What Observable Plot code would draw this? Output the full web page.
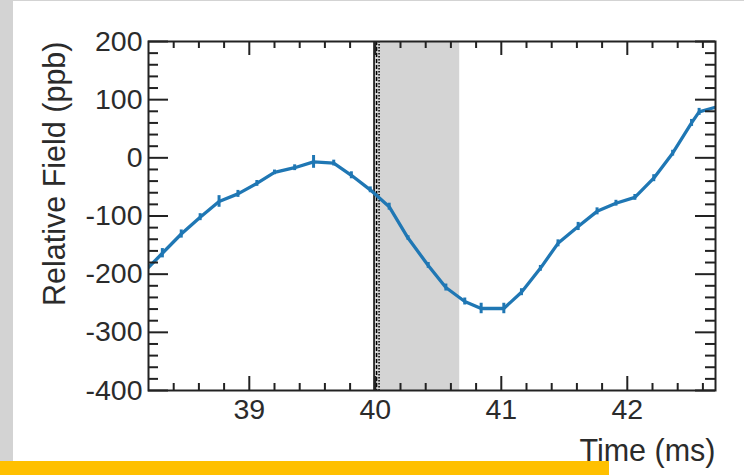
<!DOCTYPE html>
<html><head><meta charset="utf-8">
<script src="https://cdn.jsdelivr.net/npm/d3@7"></script>
<script src="https://cdn.jsdelivr.net/npm/@observablehq/plot@0.6"></script>
<style>
html,body{margin:0;padding:0;background:#fff;}
#wrap{position:relative;width:744px;height:475px;overflow:hidden;font-family:"Liberation Sans",Arial,sans-serif;}
#strip{position:absolute;left:0;top:0;width:13px;height:461px;background:#d3d3d3;}
#topline{position:absolute;left:0;top:0;width:744px;height:1px;background:#d3d3d3;}
#bar{position:absolute;left:0;top:461px;width:609px;height:14px;background:#ffc000;}
#chart{position:absolute;left:0;top:0;}
</style></head><body>
<div id="wrap"><div id="chart"></div><div id="strip"></div><div id="topline"></div><div id="bar"></div></div>
<script>
// Data (time in ms, relative field in ppb, uncertainty in ppb)
const times  = [38.16, 38.31, 38.46, 38.61, 38.76, 38.91, 39.06, 39.20, 39.36, 39.51, 39.67, 39.81, 39.96, 40.11, 40.26, 40.42, 40.56, 40.71, 40.84, 41.02, 41.16, 41.31, 41.45, 41.61, 41.76, 41.91, 42.06, 42.21, 42.36, 42.51, 42.57, 42.75];
const field  = [-197, -164, -131, -102, -75, -62, -44, -25, -17, -7, -9, -30, -55, -84, -138, -185, -223, -247, -259, -259, -231, -190, -147, -118, -92, -78, -68, -35, 8, 60, 79, 90];
const errors = [7, 8, 7, 6, 10, 6, 5, 4, 5, 11, 5, 6, 5, 6, 4, 5, 6, 6, 9, 9, 6, 5, 6, 7, 6, 5, 5, 6, 5, 6, 6, 6];

const xDomain = [38.2, 42.7];
const yDomain = [-400, 200];
const xTickLabels = [39, 40, 41, 42];
const yTickLabels = [-400, -300, -200, -100, 0, 100, 200];
const xMinor = d3.range(38.4, 42.65, 0.2).map(v => Math.round(v * 10) / 10).filter(v => !Number.isInteger(v));
const yMinor = d3.range(-380, 200, 20).filter(v => v % 100 !== 0);

const shadeStart = [39.99];
const shadeEnd = [40.67];
const solidLine = [39.99];
const dashedLine = [40.01];
const dottedLine = [40.03];

const xLabel = "Time (ms)";
const yLabel = "Relative Field (ppb)";

const data = times.map((t, i) => ({t, v: field[i], e: errors[i]}));
const shade = shadeStart.map((s, i) => ({x1: s, x2: shadeEnd[i]}));

const W = 744, H = 475, mL = 148, mR = 29, mT = 41, mB = 85;
const iw = W - mL - mR, ih = H - mT - mB;
const FS = 28.5;   // tick labels
const LFS = 30.5;  // axis titles
const axisColor = "#222";
const textColor = "#2b2b2b";
const blue = "#1f77b4";

const chart = Plot.plot({
  width: W, height: H,
  marginLeft: mL, marginRight: mR, marginTop: mT, marginBottom: mB,
  style: {fontFamily: '"Liberation Sans", Arial, sans-serif', fontSize: FS + "px", color: textColor, background: "transparent"},
  x: {domain: xDomain},
  y: {domain: yDomain},
  marks: [
    Plot.rect(shade, {x1: "x1", x2: "x2", fill: "#d4d4d4"}),
    Plot.ruleX(solidLine, {x: d => d, stroke: "#000", strokeWidth: 1.5}),
    Plot.ruleX(dashedLine, {x: d => d, stroke: "#000", strokeWidth: 1.5, strokeDasharray: "4,2"}),
    Plot.ruleX(dottedLine, {x: d => d, stroke: "#000", strokeWidth: 1.5, strokeDasharray: "1.5,1.5"}),
    Plot.line(data, {x: "t", y: "v", stroke: blue, strokeWidth: 3.3, clip: true}),
    Plot.ruleX(data, {x: "t", y1: d => d.v - d.e, y2: d => d.v + d.e, stroke: blue, strokeWidth: 3, clip: true}),
    // inward ticks
    Plot.tickY(yTickLabels, {y: d => d, insetRight: iw - 20, stroke: axisColor, strokeWidth: 2}),
    Plot.tickY(yMinor, {y: d => d, insetRight: iw - 10, stroke: axisColor, strokeWidth: 2}),
    Plot.tickY(yTickLabels, {y: d => d, insetLeft: iw - 20, stroke: axisColor, strokeWidth: 2}),
    Plot.tickY(yMinor, {y: d => d, insetLeft: iw - 10, stroke: axisColor, strokeWidth: 2}),
    Plot.tickX(xTickLabels, {x: d => d, insetTop: ih - 14, stroke: axisColor, strokeWidth: 2}),
    Plot.tickX(xMinor, {x: d => d, insetTop: ih - 7, stroke: axisColor, strokeWidth: 2}),
    Plot.tickX(xTickLabels, {x: d => d, insetBottom: ih - 14, stroke: axisColor, strokeWidth: 2}),
    Plot.tickX(xMinor, {x: d => d, insetBottom: ih - 7, stroke: axisColor, strokeWidth: 2}),
    Plot.frame({stroke: axisColor, strokeWidth: 2}),
    Plot.axisY({ticks: yTickLabels, tickSize: 0, tickPadding: 6, tickFormat: d => String(d), label: null, fontSize: FS, fill: textColor}),
    Plot.axisX({ticks: xTickLabels, tickSize: 0, tickPadding: 8, tickFormat: d => String(d), label: null, fontSize: FS, fill: textColor}),
    Plot.text([yLabel], {text: d => d, frameAnchor: "top-left", rotate: -90, textAnchor: "end", lineAnchor: "bottom", dx: -84, fontSize: LFS, fill: textColor}),
    Plot.text([xLabel], {text: d => d, frameAnchor: "bottom-right", textAnchor: "end", lineAnchor: "bottom", dy: 70, fontSize: LFS, fill: textColor})
  ]
});
document.getElementById("chart").appendChild(chart);
</script>
</body></html>
